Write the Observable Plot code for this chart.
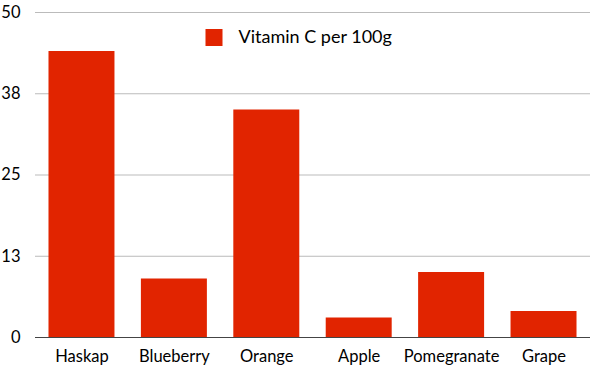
<!DOCTYPE html>
<html><head><meta charset="utf-8">
<script src="https://cdn.jsdelivr.net/npm/d3@7"></script>
<script src="https://cdn.jsdelivr.net/npm/@observablehq/plot@0.6"></script>
<style>
html,body{margin:0;padding:0;background:#fff;}
svg{font-family:Lato,"Open Sans",sans-serif;}
</style>
</head><body>
<div id="chart"></div>
<script>
const fruits = ["Haskap","Blueberry","Orange","Apple","Pomegranate","Grape"];
const vitaminC = [44, 9, 35, 3, 10, 4];
const seriesName = "Vitamin C per 100g";
const yTicks = [0, 12.5, 25, 37.5, 50];
const barColor = "#e12400";

const data = fruits.map((f,i)=>({fruit:f, value:vitaminC[i]}));

const chart = Plot.plot({
  width: 600,
  height: 376,
  marginLeft: 35,
  marginRight: 10,
  marginTop: 12,
  marginBottom: 39,
  style: {fontSize: "16.5px", fontFamily: "Lato, 'Open Sans', sans-serif", color: "#000"},
  x: {domain: fruits, round: false, paddingInner: 0.286, paddingOuter: 0.146, label: null, tickSize: 0, tickPadding: 13},
  y: {domain: [0, 50], ticks: yTicks, tickFormat: d => Math.round(d), label: null, tickSize: 0, tickPadding: 15},
  marks: [
    Plot.gridY(yTicks, {stroke: "#bbb", strokeOpacity: 1}),
    Plot.barY(data, {x: "fruit", y: "value", fill: barColor}),
    Plot.ruleY([0], {stroke: "#444", strokeWidth: 1.2}),
    Plot.dot([seriesName], {frameAnchor: "top-left", dx: 178.5, dy: 25, symbol: "square", r: 9.6, fill: barColor}),
    Plot.text([seriesName], {text: d => d, frameAnchor: "top-left", lineAnchor: "middle", dx: 203, dy: 25, textAnchor: "start", fontSize: 18, fill: "#000"})
  ]
});
document.getElementById("chart").append(chart);
</script>
</body></html>
